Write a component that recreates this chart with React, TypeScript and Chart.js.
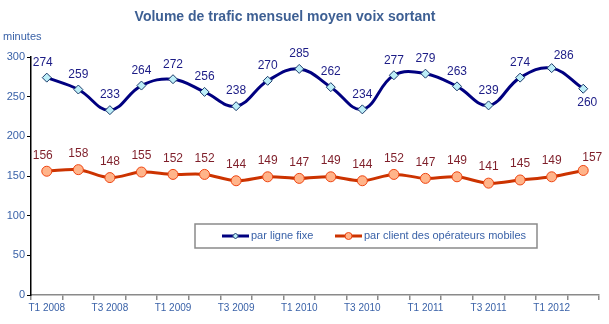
import React, { useEffect, useRef } from "react";
import { Chart, registerables } from "chart.js";

Chart.register(...registerables);

const quarters = [
  "T1 2008", "T2 2008", "T3 2008", "T4 2008",
  "T1 2009", "T2 2009", "T3 2009", "T4 2009",
  "T1 2010", "T2 2010", "T3 2010", "T4 2010",
  "T1 2011", "T2 2011", "T3 2011", "T4 2011",
  "T1 2012", "T2 2012",
];
const fixedLine = [274, 259, 233, 264, 272, 256, 238, 270, 285, 262, 234, 277, 279, 263, 239, 274, 286, 260];
const mobileClient = [156, 158, 148, 155, 152, 152, 144, 149, 147, 149, 144, 152, 147, 149, 141, 145, 149, 157];
const seriesNames = ["par ligne fixe", "par client des opérateurs mobiles"];
const yTicks = [0, 50, 100, 150, 200, 250, 300];
const titleText = "Volume de trafic mensuel moyen voix sortant";
const unitText = "minutes";

const FONT = "'Liberation Sans', Arial, sans-serif";
const BLUE_TEXT = "#3a62a8";

const decorPlugin = {
  id: "decor",
  afterDraw(chart: any) {
    const ctx = chart.ctx;
    ctx.save();
    // title
    ctx.font = `bold 14px ${FONT}`;
    ctx.fillStyle = "#3d5f93";
    ctx.textAlign = "center";
    ctx.textBaseline = "middle";
    ctx.fillText(titleText, 285, 17);
    // unit
    ctx.font = `11px ${FONT}`;
    ctx.fillStyle = BLUE_TEXT;
    ctx.textAlign = "left";
    ctx.fillText(unitText, 3, 37);

    // data labels
    const labelCfg = [
      { color: "#1c1c86", dy: -15 },
      { color: "#7f1f2a", dy: -16 },
    ];
    ctx.font = `12px ${FONT}`;
    ctx.textAlign = "center";
    chart.data.datasets.forEach((ds: any, di: number) => {
      const meta = chart.getDatasetMeta(di);
      const last = ds.data.length - 1;
      meta.data.forEach((pt: any, i: number) => {
        let dy = labelCfg[di].dy;
        let dx = 0;
        if (i === 0) dx = -4;
        if (di === 0 && i === last) { dy = 14; dx = 4; }
        if (di === 0 && i === last - 1) { dx = 12; dy = -12; }
        if (di === 1 && i === last) { dx = 9; dy = -13; }
        ctx.fillStyle = labelCfg[di].color;
        ctx.fillText(String(ds.data[i]), pt.x + dx, pt.y + dy);
      });
    });

    // legend
    const bx = 195, by = 224, bw = 342, bh = 24;
    ctx.strokeStyle = "#8a8a8a";
    ctx.lineWidth = 1.5;
    ctx.strokeRect(bx, by, bw, bh);
    const items = [
      { x: 222, ds: chart.data.datasets[0] },
      { x: 335, ds: chart.data.datasets[1] },
    ];
    const cy = by + bh / 2;
    items.forEach((it, k) => {
      ctx.strokeStyle = it.ds.borderColor;
      ctx.lineWidth = 3;
      ctx.beginPath();
      ctx.moveTo(it.x, cy);
      ctx.lineTo(it.x + 27, cy);
      ctx.stroke();
      ctx.fillStyle = it.ds.pointBackgroundColor;
      ctx.strokeStyle = it.ds.pointBorderColor;
      ctx.lineWidth = 1;
      ctx.beginPath();
      if (k === 0) {
        const r = 3;
        const mx = it.x + 13.5;
        ctx.moveTo(mx, cy - r);
        ctx.lineTo(mx + r, cy);
        ctx.lineTo(mx, cy + r);
        ctx.lineTo(mx - r, cy);
        ctx.closePath();
      } else {
        ctx.arc(it.x + 13.5, cy, 3.5, 0, Math.PI * 2);
      }
      ctx.fill();
      ctx.stroke();
      ctx.font = `11px ${FONT}`;
      ctx.fillStyle = BLUE_TEXT;
      ctx.textAlign = "left";
      ctx.textBaseline = "middle";
      ctx.fillText(it.ds.label, it.x + 29, cy);
    });
    ctx.restore();
  },
};

export default function App() {
  const ref = useRef<HTMLCanvasElement | null>(null);
  useEffect(() => {
    document.body.style.margin = "0";
    if (!ref.current) return;
    const chart = new Chart(ref.current, {
      type: "line",
      data: {
        labels: quarters,
        datasets: [
          {
            label: seriesNames[0],
            data: fixedLine,
            borderColor: "#000080",
            borderWidth: 3,
            tension: 0.4,
            pointStyle: "rectRot",
            pointRadius: 4.5,
            pointBackgroundColor: "#bdeef8",
            pointBorderColor: "#1a3a6a",
            pointBorderWidth: 1,
          },
          {
            label: seriesNames[1],
            data: mobileClient,
            borderColor: "#cc3300",
            borderWidth: 3,
            tension: 0.35,
            pointStyle: "circle",
            pointRadius: 5,
            pointBackgroundColor: "#ffb48a",
            pointBorderColor: "#ee4411",
            pointBorderWidth: 1,
          },
        ],
      },
      options: {
        responsive: false,
        animation: false,
        layout: { padding: { top: 57, right: 10, left: 0, bottom: 0 } },
        plugins: {
          legend: { display: false },
          title: { display: false },
          tooltip: { enabled: false },
        },
        scales: {
          x: {
            type: "category",
            offset: true,
            afterFit: (s: any) => { s.height = 29; },
            border: { display: true, color: "#8a8a8a", width: 1.5 },
            grid: {
              display: true,
              offset: true,
              drawOnChartArea: false,
              drawTicks: true,
              tickLength: 5,
              color: "#8a8a8a",
              lineWidth: 1.5,
            },
            ticks: {
              autoSkip: false,
              maxRotation: 0,
              minRotation: 0,
              padding: 2,
              color: BLUE_TEXT,
              font: { family: FONT, size: 10 },
              callback: (_v: any, i: number) => (i % 2 === 0 ? quarters[i] : ""),
            },
          },
          y: {
            min: 0,
            max: 300,
            afterFit: (s: any) => { s.width = 31; },
            afterBuildTicks: (s: any) => { s.ticks = yTicks.map((v) => ({ value: v })); },
            border: { display: true, color: "#000000", width: 1.5 },
            grid: {
              display: true,
              drawOnChartArea: false,
              drawTicks: true,
              tickLength: 4,
              color: "#000000",
            },
            ticks: {
              padding: 2,
              color: BLUE_TEXT,
              font: { family: FONT, size: 11 },
            },
          },
        },
      },
      plugins: [decorPlugin],
    });
    return () => chart.destroy();
  }, []);
  return <canvas ref={ref} width={609} height={324} style={{ display: "block" }} />;
}
